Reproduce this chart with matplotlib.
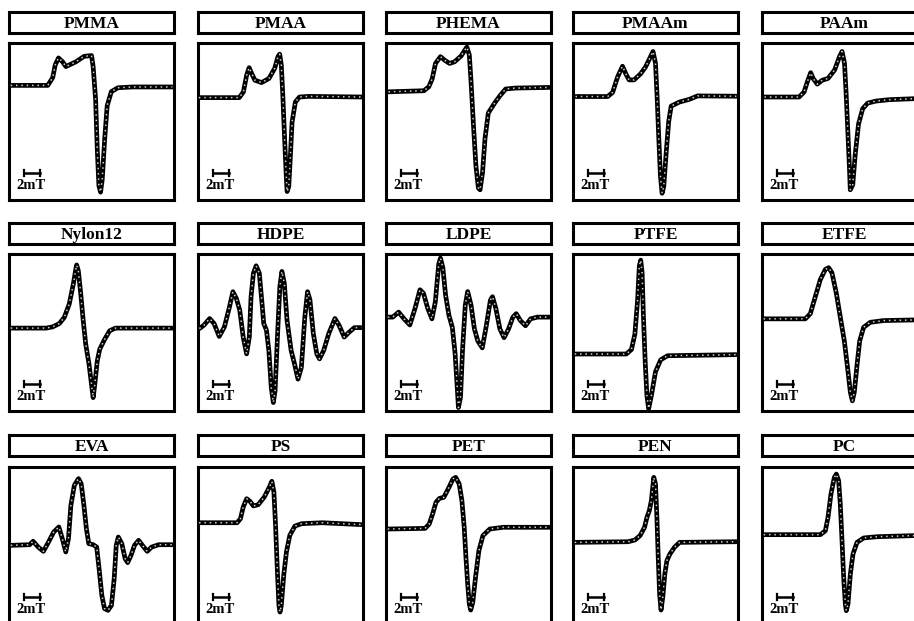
import matplotlib
matplotlib.use('Agg')
import matplotlib.pyplot as plt

plt.rcParams.update({
    'font.family': ['Liberation Serif', 'DejaVu Serif'],
    'font.weight': 'bold',
})

# ─── Spectra: field (mT, 0-20 window), signal (a.u., 0-100 window) ───
pmma_field  = [0.2, 4.7, 5.3, 5.6, 6.0, 6.5, 6.9, 8.1, 9.1, 10.0, 10.2, 10.5, 10.7, 10.9, 11.1,
               11.3, 11.6, 11.9, 12.4, 13.2, 15.0, 19.8]
pmma_signal = [73, 73, 78, 86, 90.5, 88, 85, 88, 91.5, 92, 85, 64, 32, 9, 5,
               13, 39, 60, 69, 71.5, 72, 72]

pmaa_field  = [0.1, 5.0, 5.5, 5.9, 6.2, 6.5, 6.9, 7.7, 8.6, 9.3, 9.7, 9.9, 10.1, 10.3, 10.5,
               10.7, 10.8, 11.0, 11.2, 11.4, 11.8, 12.3, 13.4, 19.9]
pmaa_signal = [65.2, 65.2, 68.8, 79.6, 84.3, 80.6, 76.3, 74.8, 77.4, 83.9, 91.4, 92.9, 86.0, 64.5, 38.7,
               15.1, 5.4, 8.6, 28.0, 49.5, 62.4, 65.6, 66.0, 65.6]

phema_field  = [0.3, 4.6, 5.2, 5.6, 6.0, 6.6, 7.1, 7.7, 8.3, 9.1, 9.8, 10.1, 10.3, 10.6, 10.9,
                11.2, 11.4, 11.7, 12.0, 12.4, 13.2, 13.8, 14.5, 15.7, 19.8]
phema_signal = [68.9, 69.6, 72.2, 77.2, 87.0, 91.3, 89.1, 87.0, 88.0, 91.7, 97.4, 92.4, 76.1, 47.8, 21.7,
                7.6, 6.5, 17.4, 39.1, 55.4, 62.0, 66.3, 70.7, 71.3, 71.7]

pmaam_field  = [0.3, 4.2, 4.8, 5.4, 6.0, 6.4, 6.8, 7.4, 8.2, 8.8, 9.5, 9.7, 10.0, 10.2, 10.4,
                10.6, 10.8, 11.0, 11.3, 11.6, 11.9, 12.9, 14.1, 15.1, 19.8]
pmaam_signal = [65.9, 65.9, 68.5, 78.3, 85.2, 80.4, 76.5, 76.5, 80.4, 84.8, 92.4, 94.6, 87.0, 65.2, 39.1,
                15.2, 4.3, 8.7, 30.4, 50.0, 59.8, 62.4, 64.1, 66.3, 66.1]

paam_field  = [0.3, 4.5, 5.1, 5.5, 5.9, 6.2, 6.7, 7.3, 8.0, 8.8, 9.4, 9.7, 10.0, 10.2, 10.4,
               10.6, 10.7, 11.0, 11.3, 11.7, 12.2, 12.8, 13.8, 15.4, 18.3, 19.8]
paam_signal = [65.6, 65.6, 68.8, 75.3, 81.1, 77.4, 73.8, 76.3, 77.4, 82.8, 91.4, 94.6, 87.1, 67.7, 44.1,
               20.4, 6.5, 9.7, 29.0, 48.4, 58.1, 61.7, 63.0, 63.9, 64.5, 64.7]

nylon_field  = [0.2, 4.5, 5.3, 6.1, 6.7, 7.3, 7.8, 8.1, 8.2, 8.4, 8.7, 9.0, 9.3, 9.7, 10.0,
                10.2, 10.4, 10.7, 11.0, 11.6, 12.2, 12.9, 19.8]
nylon_signal = [52.8, 52.8, 53.6, 55.7, 59.6, 68.1, 80.9, 90.4, 93.0, 89.4, 74.5, 57.4, 42.6, 29.8, 17.0,
                8.5, 17.0, 31.9, 39.4, 45.7, 51.1, 52.8, 52.8]

hdpe_field  = [0.17, 0.71, 1.41, 1.95, 2.57, 3.20, 3.82, 4.23, 4.65, 5.06, 5.48, 5.89, 6.22, 6.43, 6.72,
               7.05, 7.43, 7.76, 7.97, 8.30, 8.59, 8.88, 9.13, 9.34, 9.63, 9.92, 10.17, 10.46, 10.79,
               11.29, 11.70, 12.12, 12.53, 12.95, 13.28, 13.57, 13.98, 14.40, 14.73, 15.23, 15.85,
               16.60, 17.10, 17.72, 18.34, 18.96, 19.79]
hdpe_signal = [52.5, 54.6, 58.9, 55.7, 47.5, 53.5, 66.4, 76.0, 71.7, 64.2, 47.1, 36.4, 47.1, 72.8, 87.8,
               92.5, 87.8, 68.5, 55.7, 51.4, 38.5, 15.0, 5.4, 12.8, 47.1, 79.2, 88.9, 81.4, 57.8,
               38.5, 30.0, 20.3, 27.8, 60.0, 76.0, 70.7, 49.3, 36.4, 33.2, 38.5, 49.3,
               58.9, 54.6, 47.1, 50.3, 53.1, 53.1]

ldpe_field  = [0.21, 0.82, 1.53, 2.19, 2.89, 3.51, 4.12, 4.54, 5.07, 5.57, 5.98, 6.39, 6.60, 6.89, 7.22,
               7.63, 8.04, 8.37, 8.66, 8.78, 9.03, 9.28, 9.61, 9.90, 10.31, 10.72, 11.13, 11.67,
               12.16, 12.66, 12.91, 13.32, 13.81, 14.31, 14.85, 15.38, 15.79, 16.29, 16.91, 17.53,
               18.35, 19.79]
ldpe_signal = [59.8, 59.8, 63.0, 58.7, 54.8, 65.2, 77.2, 75.0, 65.2, 58.7, 69.6, 93.5, 97.4, 91.3, 73.9,
               60.9, 53.3, 37.0, 13.0, 2.2, 8.7, 39.1, 67.4, 76.1, 67.4, 52.2, 44.6, 40.2,
               54.3, 70.7, 72.8, 65.2, 52.2, 46.7, 52.2, 59.8, 62.0, 57.6, 54.3, 58.7,
               59.8, 59.8]

ptfe_field  = [0.21, 6.46, 7.08, 7.50, 7.83, 8.04, 8.21, 8.38, 8.54, 8.75, 8.96, 9.17, 9.50, 10.0,
               10.63, 11.46, 19.79]
ptfe_signal = [36.3, 36.3, 39.1, 48.9, 70.7, 92.4, 96.1, 88.0, 59.8, 31.5, 9.8, 1.5, 9.8, 25.0,
               32.6, 35.2, 35.9]

etfe_field  = [0.2, 5.25, 5.86, 6.46, 7.07, 7.68, 8.08, 8.48, 9.01, 9.49, 9.98, 10.38, 10.71, 10.95,
               11.19, 11.52, 11.84, 12.32, 13.13, 14.75, 18.46, 19.8]
etfe_signal = [58.7, 58.7, 62.0, 72.8, 83.7, 90.2, 91.3, 88.0, 75.0, 59.8, 44.6, 27.2, 12.0, 6.5,
               12.0, 29.3, 44.6, 53.3, 56.5, 57.6, 58.0, 58.0]

eva_field  = [0.21, 2.50, 2.92, 3.54, 4.17, 4.79, 5.42, 6.04, 6.46, 6.88, 7.21, 7.50, 7.92, 8.42, 8.75,
              9.08, 9.38, 9.67, 10.21, 10.63, 10.92, 11.25, 11.58, 12.0, 12.42, 12.75, 13.0, 13.25,
              13.67, 14.08, 14.38, 14.79, 15.21, 15.71, 16.17, 16.75, 17.29, 18.13, 19.79]
eva_signal = [50.1, 50.5, 52.7, 49.0, 46.3, 52.2, 58.6, 61.8, 54.4, 45.9, 54.4, 75.6, 88.3, 92.6, 89.4,
              75.6, 60.7, 51.2, 50.5, 49.0, 35.2, 18.3, 9.8, 8.7, 11.9, 28.9, 50.1, 55.4,
              51.2, 41.6, 39.1, 43.7, 50.1, 53.3, 50.1, 46.3, 49.0, 50.5, 50.5]

ps_field  = [0.12, 4.74, 5.15, 5.48, 5.90, 6.31, 6.72, 7.30, 8.04, 8.66, 8.95, 9.20, 9.40, 9.61, 9.81,
             9.94, 10.10, 10.39, 10.72, 11.13, 11.75, 12.58, 15.05, 19.79]
ps_signal = [64.5, 64.5, 67.1, 74.5, 79.8, 78.1, 75.2, 76.0, 80.9, 87.3, 90.9, 84.1, 62.8, 35.2, 11.9,
             7.6, 11.9, 31.0, 45.9, 56.5, 62.4, 63.9, 64.5, 63.3]

pet_field  = [0.21, 4.74, 5.24, 5.65, 6.06, 6.47, 7.01, 7.63, 8.12, 8.45, 8.87, 9.20, 9.48, 9.69, 9.90,
              10.10, 10.27, 10.52, 10.85, 11.26, 11.75, 12.58, 14.23, 19.79]
pet_signal = [60.5, 60.9, 63.7, 70.1, 77.5, 80.0, 80.7, 87.0, 92.4, 93.4, 89.2, 78.6, 61.6, 42.5, 25.5,
              12.7, 8.9, 13.8, 29.7, 46.7, 56.3, 60.5, 61.6, 61.6]

pen_field  = [0.21, 6.67, 7.50, 8.13, 8.67, 8.96, 9.25, 9.50, 9.79, 10.0, 10.17, 10.33, 10.5, 10.67,
              10.88, 11.13, 11.38, 11.75, 12.29, 12.92, 19.79]
pen_signal = [52.0, 52.4, 53.5, 56.3, 61.6, 67.9, 72.2, 78.6, 93.4, 89.2, 67.9, 42.5, 19.1, 8.9,
              17.0, 31.8, 40.3, 44.6, 48.8, 52.0, 52.4]

pc_field  = [0.2, 7.07, 7.68, 8.0, 8.36, 8.77, 9.01, 9.29, 9.49, 9.70, 9.90, 10.10, 10.22, 10.42,
             10.71, 11.03, 11.52, 12.32, 13.94, 18.46, 19.8]
pc_signal = [56.9, 56.9, 59.4, 67.9, 82.8, 93.4, 95.5, 91.3, 76.4, 53.1, 29.7, 12.7, 8.5, 12.7,
             31.8, 44.6, 52.0, 54.8, 55.6, 56.3, 56.3]

names = ['PMMA', 'PMAA', 'PHEMA', 'PMAAm', 'PAAm',
         'Nylon12', 'HDPE', 'LDPE', 'PTFE', 'ETFE',
         'EVA', 'PS', 'PET', 'PEN', 'PC']
fields = [pmma_field, pmaa_field, phema_field, pmaam_field, paam_field,
          nylon_field, hdpe_field, ldpe_field, ptfe_field, etfe_field,
          eva_field, ps_field, pet_field, pen_field, pc_field]
signals = [pmma_signal, pmaa_signal, phema_signal, pmaam_signal, paam_signal,
           nylon_signal, hdpe_signal, ldpe_signal, ptfe_signal, etfe_signal,
           eva_signal, ps_signal, pet_signal, pen_signal, pc_signal]

# ─── Layout (pixels on a 914x621 canvas) ───
W, H = 914, 621
col_left = [9, 198, 386, 573, 762]
title_top = [12, 223, 435]
plot_top = [43, 254, 467]
box_w, title_h, plot_h = 165, 21, 157

def rect(left, top, w, h):
    return [left / W, 1 - (top + h) / H, w / W, h / H]

fig = plt.figure(figsize=(W / 100, H / 100), dpi=100)
fig.patch.set_facecolor('white')

for i, name in enumerate(names):
    r, c = divmod(i, 5)

    # title box
    tax = fig.add_axes(rect(col_left[c], title_top[r], box_w, title_h))
    tax.set_xticks([]); tax.set_yticks([])
    for s in tax.spines.values():
        s.set_linewidth(2.2)
    tax.text(0.5, 0.45, name, ha='center', va='center', fontsize=12.5, fontweight='bold',
             transform=tax.transAxes)

    # spectrum box
    ax = fig.add_axes(rect(col_left[c], plot_top[r], box_w, plot_h))
    ax.plot(fields[i], signals[i], color='black', lw=3.4, solid_joinstyle='round',
            solid_capstyle='round', zorder=2)
    ax.plot(fields[i], signals[i], color='#cfcfcf', lw=1.1, ls=(0, (1, 2.5)), zorder=3)
    ax.set_xlim(0, 20)
    ax.set_ylim(0, 100)
    ax.set_xticks([]); ax.set_yticks([])
    for s in ax.spines.values():
        s.set_linewidth(2.2)

    # 2 mT scale bar
    ax.plot([1.8, 3.8], [17, 17], color='black', lw=1.8)
    ax.plot([1.8, 1.8], [15, 19], color='black', lw=1.6)
    ax.plot([3.8, 3.8], [15, 19], color='black', lw=1.6)
    ax.text(0.9, 9.5, '2mT', ha='left', va='center', fontsize=10.5, fontweight='bold')

fig.savefig('out.png', dpi=100)
